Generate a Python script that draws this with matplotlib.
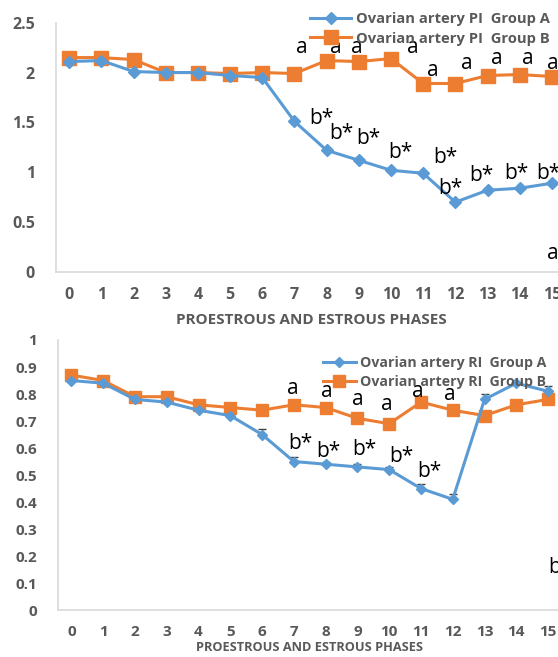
import matplotlib
matplotlib.use("Agg")
import matplotlib.pyplot as plt
import numpy as np

plt.rcParams['font.family'] = ['Open Sans', 'DejaVu Sans']

phases = list(range(16))

# pulsatility index
pi_group_a = [2.11, 2.12, 2.01, 2.00, 2.00, 1.97, 1.95, 1.51, 1.22, 1.12,
              1.02, 0.99, 0.70, 0.82, 0.84, 0.89]
pi_group_b = [2.15, 2.15, 2.13, 2.00, 2.00, 1.99, 2.00, 1.99, 2.12, 2.11,
              2.14, 1.89, 1.89, 1.97, 1.98, 1.96]
pi_b_err = [0, 0, 0, 0, 0, 0, 0, 0, 0, 0, 0.06, 0, 0, 0, 0.06, 0]

# resistance index
ri_group_a = [0.85, 0.84, 0.78, 0.77, 0.74, 0.72, 0.65, 0.55, 0.54, 0.53,
              0.52, 0.45, 0.41, 0.78, 0.84, 0.81]
ri_group_b = [0.87, 0.85, 0.79, 0.79, 0.76, 0.75, 0.74, 0.76, 0.75, 0.71,
              0.69, 0.77, 0.74, 0.72, 0.76, 0.78]
ri_a_err = [0, 0, 0, 0, 0, 0, 0.02, 0.015, 0.01, 0.01, 0.01, 0.015, 0.02,
            0.02, 0, 0.02]

# significance letters (x, y, text)
pi_marks_x = [7.24, 8.28, 8.93, 10.68, 11.3, 12.36, 13.28, 14.25, 15.03,
              7.85, 8.47, 9.29, 10.28, 11.68, 11.83, 12.82, 13.9, 14.88, 15.03]
pi_marks_y = [2.25, 2.25, 2.25, 2.25, 2.02, 2.09, 2.14, 2.14, 2.09,
              1.54, 1.39, 1.34, 1.20, 1.15, 0.84, 0.97, 0.99, 0.99, 0.19]
pi_marks = ['a'] * 9 + ['b*'] * 9 + ['a']

ri_marks_x = [6.96, 8.03, 9.0, 9.92, 10.9, 11.91,
              7.19, 8.08, 9.21, 10.39, 11.28, 15.22]
ri_marks_y = [0.82, 0.81, 0.78, 0.76, 0.81, 0.80,
              0.617, 0.586, 0.593, 0.568, 0.512, 0.156]
ri_marks = ['a'] * 6 + ['b*'] * 5 + ['b']

BLUE = '#5B9BD5'
ORANGE = '#ED7D31'
GRAY = '#595959'
AXIS = '#D9D9D9'

fig = plt.figure(figsize=(5.58, 6.57), dpi=100)


def style_axes(ax, ymax, ystep, tick_size, label_size, label_xy):
    ax.set_ylim(0, ymax)
    ax.set_xlim(-0.42, 16.4)
    ax.set_xticks(phases)
    ax.set_xticklabels([str(p) for p in phases])
    yt = np.arange(0, ymax + ystep / 2, ystep)
    ax.set_yticks(yt)
    ax.set_yticklabels(['%g' % round(v, 2) for v in yt])
    for s in ['top', 'right']:
        ax.spines[s].set_visible(False)
    for s in ['left', 'bottom']:
        ax.spines[s].set_color(AXIS)
        ax.spines[s].set_linewidth(1.2)
    ax.tick_params(length=0, colors=GRAY, labelsize=tick_size)
    ax.tick_params(axis='x', pad=11)
    ax.tick_params(axis='y', pad=15)
    for lbl in ax.get_xticklabels() + ax.get_yticklabels():
        lbl.set_fontweight('bold')
    ax.set_xlabel('PROESTROUS AND ESTROUS PHASES', color=GRAY,
                  fontweight='bold', fontsize=label_size)
    ax.xaxis.set_label_coords(*label_xy)


def add_legend(ax, anchor, size, handle_len):
    leg = ax.legend(loc='upper left', bbox_to_anchor=anchor,
                    bbox_transform=fig.transFigure, frameon=False,
                    borderpad=0, borderaxespad=0, handlelength=handle_len,
                    handletextpad=0.3, labelspacing=0.35,
                    prop={'weight': 'bold', 'size': size})
    for t in leg.get_texts():
        t.set_color(GRAY)


# top panel: PI
ax1 = fig.add_axes([0.0998, 0.586, 0.970, 0.3795])
ax1.errorbar(phases, pi_group_b, yerr=[np.zeros(16), pi_b_err], fmt='none',
             ecolor='#404040', elinewidth=0.8, capsize=3, zorder=1)
ax1.plot(phases, pi_group_a, color=BLUE, lw=2.2, marker='D', ms=6,
         label='Ovarian artery PI  Group A', clip_on=False, zorder=3)
ax1.plot(phases, pi_group_b, color=ORANGE, lw=2.2, marker='s', ms=9.5,
         label='Ovarian artery PI  Group B', clip_on=False, zorder=2)
style_axes(ax1, 2.5, 0.5, 11.5, 11, (0.4717, -0.165))
for x, y, t in zip(pi_marks_x, pi_marks_y, pi_marks):
    ax1.text(x, y, t, ha='center', va='center', fontsize=15, zorder=5)
add_legend(ax1, (0.5556, 0.9810), 10.6, 2.8)

# bottom panel: RI
ax2 = fig.add_axes([0.104, 0.0715, 0.958, 0.411])
ax2.errorbar(phases, ri_group_a, yerr=[np.zeros(16), ri_a_err], fmt='none',
             ecolor='#404040', elinewidth=0.8, capsize=3, zorder=1)
ax2.plot(phases, ri_group_a, color=BLUE, lw=2.2, marker='D', ms=5.5,
         label='Ovarian artery RI  Group A', clip_on=False, zorder=3)
ax2.plot(phases, ri_group_b, color=ORANGE, lw=2.2, marker='s', ms=8.5,
         label='Ovarian artery RI  Group B', clip_on=False, zorder=2)
style_axes(ax2, 1.0, 0.1, 11, 9.2, (0.4695, -0.113))
for x, y, t in zip(ri_marks_x, ri_marks_y, ri_marks):
    ax2.text(x, y, t, ha='center', va='center', fontsize=15, zorder=5)
add_legend(ax2, (0.579, 0.4580), 10.2, 2.3)

fig.savefig('out.png', dpi=100)
